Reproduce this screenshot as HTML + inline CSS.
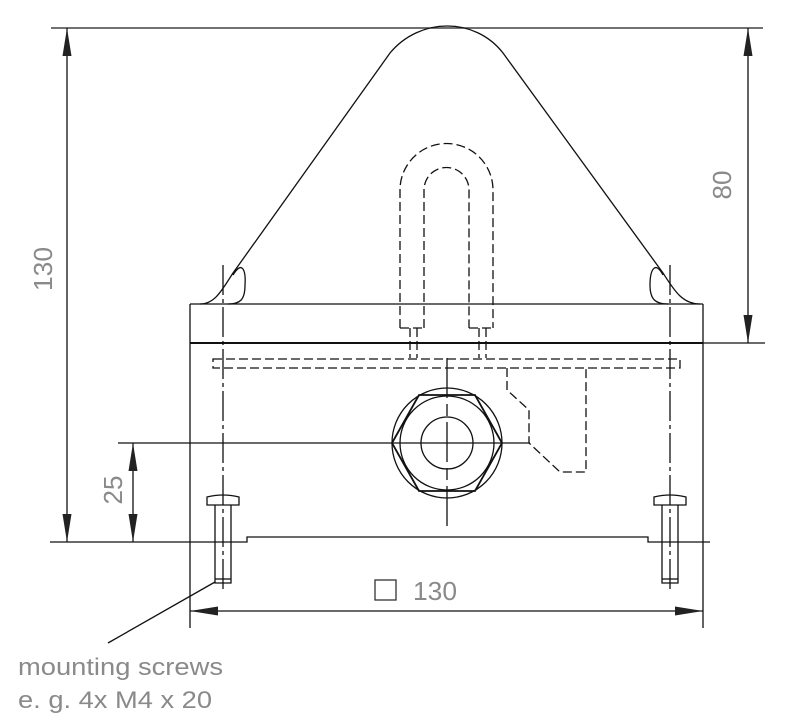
<!DOCTYPE html>
<html><head><meta charset="utf-8"><style>
html,body{margin:0;padding:0;background:#fff;}
svg{display:block}
text{font-family:"Liberation Sans",sans-serif;fill:#8a8a8a;}
</style></head><body>
<svg width="794" height="728" viewBox="0 0 794 728" xmlns="http://www.w3.org/2000/svg">
<defs>
<marker id="a" viewBox="0 0 28 9" refX="28" refY="4.5" markerWidth="28" markerHeight="9" markerUnits="userSpaceOnUse" orient="auto-start-reverse">
<path d="M28,4.5 L0,0 L0,9 Z" fill="#222"/>
</marker>
</defs>
<g stroke="#111" stroke-width="1.3" fill="none">
<line x1="51" y1="28" x2="763" y2="28" stroke="#444" stroke-width="1.5"/>
<line x1="700" y1="343" x2="765" y2="343"/>
<line x1="50" y1="542" x2="245" y2="542"/>
<line x1="118" y1="443" x2="530" y2="443"/>
<line x1="67" y1="28" x2="67" y2="542" marker-start="url(#a)" marker-end="url(#a)"/>
<line x1="748" y1="28" x2="748" y2="343" marker-start="url(#a)" marker-end="url(#a)"/>
<line x1="133" y1="443" x2="133" y2="542" marker-start="url(#a)" marker-end="url(#a)"/>
<line x1="190" y1="611" x2="703" y2="611" marker-start="url(#a)" marker-end="url(#a)"/>
<line x1="190" y1="304" x2="190" y2="628"/>
<line x1="703" y1="304" x2="703" y2="628"/>
<line x1="190" y1="304" x2="703" y2="304"/>
<line x1="190" y1="343" x2="703" y2="343" stroke-width="2"/>
<path d="M245,542 L247,542 L247,537 L648,537 L648,542 L710,542"/>
<path d="M200,304 C215,304 222,290 233,273 L390,53 C420,17 475,17 503,53 L663,273 C674,290 682,304 700,304"/>
<path d="M233,275 C242,260 246,270 245,285 C245,300 240,304 228,304"/>
<path d="M663,275 C655,260 650,270 650,285 C650,300 656,304 668,304"/>
<g stroke-dasharray="9,4">
<path d="M400,328 L400,190 A46.5,46.5 0 0 1 493,190 L493,328"/>
<path d="M424,328 L424,190 A22.5,22.5 0 0 1 469,190 L469,328"/>
<path d="M400,328 L424,328 M469,328 L493,328"/>
<path d="M410,328 L410,358 M417,328 L417,358 M479,328 L479,358 M486,328 L486,358"/>
<rect x="213" y="359" width="467" height="9"/>
<path d="M507,368 L507,390 L529,410 L529,443 L560,472 L586,472 L586,368"/>
</g>
<g stroke-dasharray="30,4,4,4">
<line x1="223" y1="265" x2="223" y2="590"/>
<line x1="670" y1="265" x2="670" y2="590"/>
</g>
<line x1="447" y1="358" x2="447" y2="528" stroke-dasharray="40,6,12,6"/>
<circle cx="447" cy="443" r="55"/>
<circle cx="447" cy="443" r="47"/>
<circle cx="447" cy="443" r="26"/>
<path d="M392,443 L419,395 L475,395 L502,443 L475,491 L419,491 Z" stroke-width="1.8"/>
<g id="s">
<path d="M207,505 L207,497 Q223,493 239,497 L239,505 Z"/>
<path d="M215,505 L215,583 L231,583 L231,505" />
<line x1="215" y1="579" x2="231" y2="579"/>
</g>
<use href="#s" transform="translate(447,0)"/>
<line x1="215" y1="582" x2="108" y2="643"/>
<rect x="375" y="580" width="21" height="20" stroke="#333"/>
</g>
<text x="413" y="600" font-size="26" textLength="44" lengthAdjust="spacingAndGlyphs">130</text>
<text transform="translate(52,269) rotate(-90)" text-anchor="middle" font-size="26" textLength="44" lengthAdjust="spacingAndGlyphs">130</text>
<text transform="translate(731,185) rotate(-90)" text-anchor="middle" font-size="26" textLength="29" lengthAdjust="spacingAndGlyphs">80</text>
<text transform="translate(122,490) rotate(-90)" text-anchor="middle" font-size="26" textLength="29" lengthAdjust="spacingAndGlyphs">25</text>
<text x="18" y="675" font-size="24" textLength="205" lengthAdjust="spacingAndGlyphs">mounting screws</text>
<text x="18" y="708" font-size="24" textLength="194" lengthAdjust="spacingAndGlyphs">e. g. 4x M4 x 20</text>
</svg>
</body></html>
